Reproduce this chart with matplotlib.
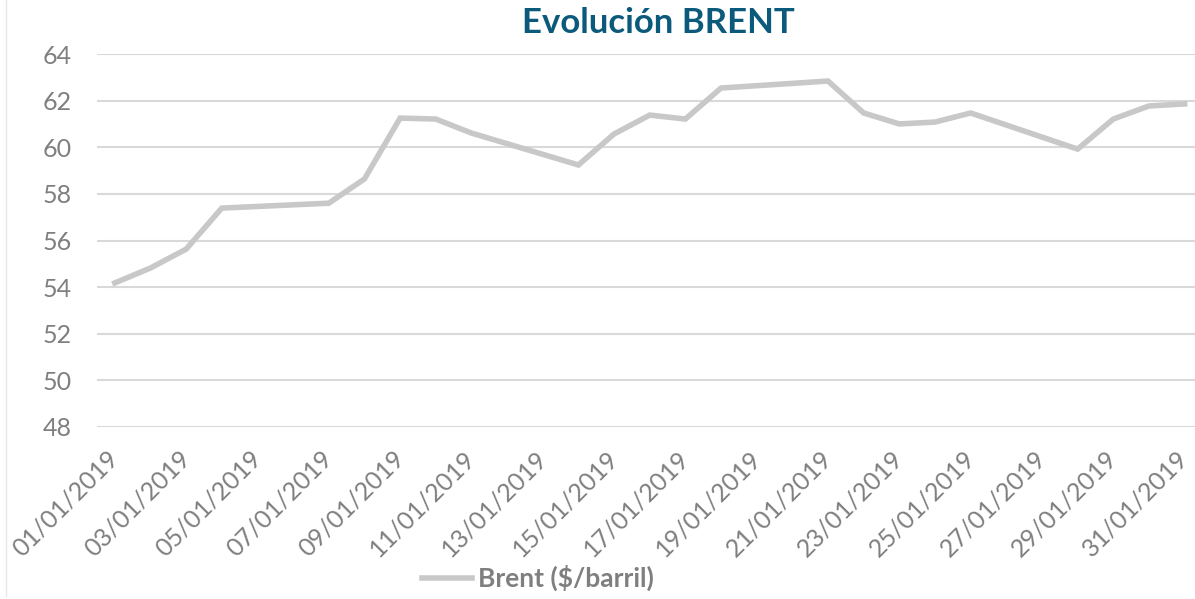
import matplotlib
matplotlib.use('Agg')
import matplotlib.pyplot as plt
import matplotlib.dates as mdates
import matplotlib.transforms as mtransforms
from matplotlib.lines import Line2D
from datetime import datetime, timedelta

# Datos: días hábiles de enero 2019
dias = [1, 2, 3, 4, 7, 8, 9, 10, 11, 14, 15, 16, 17, 18, 21, 22, 23, 24, 25, 28, 29, 30, 31]
brent = [54.18, 54.82, 55.63, 57.39, 57.60, 58.64, 61.25, 61.21, 60.61, 59.24, 60.57,
         61.38, 61.21, 62.54, 62.84, 61.47, 61.00, 61.08, 61.47, 59.92, 61.21, 61.77, 61.86]
y_ticks = [48, 50, 52, 54, 56, 58, 60, 62, 64]

fechas = [datetime(2019, 1, d) for d in dias]

gris_txt = '#7f7f7f'
plt.rcParams['font.family'] = ['Lato', 'DejaVu Sans']

fig = plt.figure(figsize=(11.95, 5.99), dpi=100)
ax = fig.add_axes([97 / 1195, 1 - 427 / 599, (1195 - 97) / 1195, (427 - 54) / 599])

ax.plot(fechas, brent, color='#c8c8c8', linewidth=4, solid_joinstyle='miter', zorder=3)

ax.set_ylim(48, 64)
ax.set_yticks(y_ticks)
ax.set_xlim(datetime(2019, 1, 1) - timedelta(hours=12), datetime(2019, 1, 31) + timedelta(hours=7))
ax.xaxis.set_major_locator(mdates.DayLocator(bymonthday=range(1, 32, 2)))
ax.xaxis.set_major_formatter(mdates.DateFormatter('%d/%m/%Y'))

ax.grid(axis='y', color='#d9d9d9', linewidth=1.5)
ax.set_axisbelow(True)
for s in ax.spines.values():
    s.set_visible(False)
ax.tick_params(axis='both', length=0, colors=gris_txt, labelsize=18)
ax.tick_params(axis='y', pad=18)
ax.tick_params(axis='x', pad=12)
# etiquetas un poco a la izquierda para que la última no se corte
desplaza = mtransforms.ScaledTranslation(-8 / 100, -3 / 100, fig.dpi_scale_trans)
for lbl in ax.get_xticklabels():
    lbl.set_rotation(45)
    lbl.set_ha('right')
    lbl.set_rotation_mode('anchor')
    lbl.set_transform(lbl.get_transform() + desplaza)

fig.text(0.551, 0.962, 'Evolución BRENT', ha='center', va='center',
         fontsize=25, fontweight='bold', color='#0b5a7c')

# Leyenda
fig.add_artist(Line2D([422 / 1195, 472 / 1195], [1 - 578 / 599] * 2, color='#c8c8c8', linewidth=4))
fig.text(478 / 1195, 1 - 578 / 599, 'Brent ($/barril)', ha='left', va='center',
         fontsize=19, fontweight='bold', color=gris_txt)

# borde izquierdo
fig.add_artist(Line2D([6 / 1195, 6 / 1195], [0.005, 1], color='#e6e6e6', linewidth=1))

plt.savefig('out.png', dpi=100)
plt.close()
